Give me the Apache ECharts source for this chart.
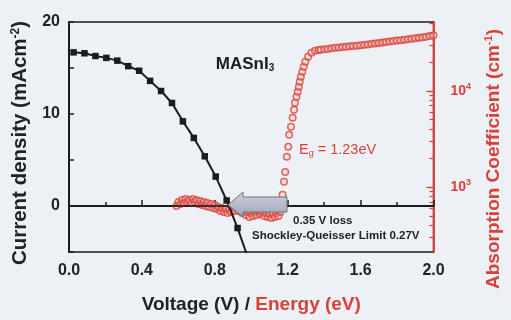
<!DOCTYPE html>
<html><head><meta charset="utf-8">
<script src="https://cdn.jsdelivr.net/npm/echarts@6/dist/echarts.min.js"></script>
<style>html,body{margin:0;padding:0;background:#edf0f4}#c{width:511px;height:320px}</style>
</head><body><div id="c"></div>
<script>
// J-V curve (black squares)
const jvVoltage = [0.025,0.085,0.145,0.205,0.265,0.325,0.385,0.445,0.505,0.565,0.625,0.685,0.745,0.805,0.865,0.925,0.985];
const jvCurrent = [16.7,16.6,16.3,16.1,15.8,15.2,14.7,13.6,12.5,11.2,9.2,7.4,5.4,3.2,0.6,-2.4,-5.8];

// Absorption spectrum (red open circles), energy in eV, coefficient in cm^-1
const absEnergy = [
 0.59,0.60,0.61,0.62,0.63,0.64,0.65,0.66,0.67,0.68,
 0.69,0.70,0.71,0.72,0.73,0.74,0.75,0.76,0.77,0.78,
 0.79,0.80,0.81,0.82,0.83,0.84,0.85,0.86,0.87,0.88,
 0.89,0.90,0.91,0.92,0.93,0.94,0.95,0.96,0.97,0.98,
 0.99,1.00,1.01,1.02,1.03,1.04,1.05,1.06,1.07,1.08,
 1.09,1.10,1.11,1.12,1.13,1.14,1.15,1.16,
 1.172,1.180,1.186,1.195,1.203,1.208,1.218,1.227,1.235,1.240,
 1.248,1.255,1.261,1.266,1.272,1.280,1.288,1.297,1.312,1.330,1.350,1.370,
 1.38,1.40,1.42,1.44,1.46,1.48,1.50,1.52,1.54,1.56,1.58,1.60,1.62,1.64,1.66,1.68,
 1.70,1.72,1.74,1.76,1.78,1.80,1.82,1.84,1.86,1.88,1.90,1.92,1.94,1.96,1.98,2.00
];
const absCoeff = [
 634,698,665,732,681,750,698,732,681,750,
 698,732,665,715,649,698,634,681,619,665,
 604,649,590,619,562,604,549,590,536,576,
 549,604,562,619,562,590,536,562,511,549,
 487,536,499,549,511,562,523,549,499,536,
 487,523,475,523,487,536,499,549,
 826,1128,1432,2054,2610,3480,4220,5230,6340,7500,
 8660,9760,11000,12400,14000,15800,17800,20000,22600,24900,26100,26600,
 26700,27000,27300,27700,28000,28300,28500,28700,29000,29300,29500,29800,30100,30400,30800,31100,
 31500,31800,32200,32500,32900,33300,33600,34000,34400,34800,35200,35600,36000,36500,37100,37800
];

const absMajorTicks = [1000, 10000];
const absMinorTicks = [300,400,500,600,700,800,900,2000,3000,4000,5000,6000,7000,8000,9000,20000,30000,40000,50000];

const FONT = "'Liberation Sans', Arial, sans-serif";
const RED = '#d8413a';
const INK = '#1c1c1c';

const chart = echarts.init(document.getElementById('c'));
chart.setOption({
  backgroundColor: '#edf0f4',
  animation: false,
  grid: {left: 69, right: 71, top: 22, bottom: 68, show: true, borderColor: INK, borderWidth: 1.5, backgroundColor: 'transparent'},
  xAxis: {
    type: 'value', min: 0, max: 2, interval: 0.4,
    axisLine: {lineStyle: {color: INK, width: 2}},
    axisTick: {inside: true, length: 6, lineStyle: {color: INK, width: 1.5}},
    minorTick: {show: true, splitNumber: 2, length: 4, lineStyle: {color: INK, width: 1.5}},
    splitLine: {show: false},
    axisLabel: {formatter: v => v.toFixed(1), color: '#222', fontWeight: 'bold', fontSize: 16, fontFamily: FONT, margin: 11},
    name: '{b|Voltage (V) / }{r|Energy (eV)}',
    nameLocation: 'middle', nameGap: 43,
    nameTextStyle: {rich: {
      b: {color: '#222', fontWeight: 'bold', fontSize: 19, fontFamily: FONT},
      r: {color: RED, fontWeight: 'bold', fontSize: 19, fontFamily: FONT}
    }}
  },
  yAxis: [
    {
      type: 'value', min: -5, max: 20, interval: 5, position: 'left',
      axisLine: {show: true, lineStyle: {color: INK, width: 2}},
      axisTick: {show: true, inside: true, length: 5, lineStyle: {color: INK, width: 1.5}},
      splitLine: {show: false},
      axisLabel: {formatter: v => (v % 10 === 0 ? String(v) : ''), color: '#222', fontWeight: 'bold', fontSize: 16, fontFamily: FONT, margin: 9},
      name: '{n|Current density (mAcm}{s|-2}{n|)}',
      nameLocation: 'middle', nameRotate: 90, nameGap: 36,
      nameTextStyle: {padding: [0, 12, 0, 0], rich: {
        n: {color: '#222', fontWeight: 'bold', fontSize: 20.5, fontFamily: FONT},
        s: {color: '#222', fontWeight: 'bold', fontSize: 12, fontFamily: FONT, padding: [0,0,10,0]}
      }}
    },
    {
      type: 'log', logBase: 10, min: 210, max: 52000, position: 'right',
      axisLine: {show: true, lineStyle: {color: RED, width: 2}},
      axisTick: {show: true, inside: true, length: 7, customValues: absMajorTicks, lineStyle: {color: RED, width: 1.3}},
      splitLine: {show: false},
      axisLabel: {customValues: absMajorTicks, margin: 17,
        formatter: v => '{b|10}{s|' + Math.round(Math.log10(v)) + '}',
        rich: {
          b: {color: RED, fontWeight: 'bold', fontSize: 14, fontFamily: FONT},
          s: {color: RED, fontWeight: 'bold', fontSize: 9, fontFamily: FONT, padding: [0,0,8,0]}
        }},
      name: '{n|Absorption Coefficient (cm}{s|-1}{n|)}',
      nameLocation: 'middle', nameRotate: 90, nameGap: 50,
      nameTextStyle: {padding: [0, 44, 0, 0], rich: {
        n: {color: RED, fontWeight: 'bold', fontSize: 19, fontFamily: FONT},
        s: {color: RED, fontWeight: 'bold', fontSize: 11, fontFamily: FONT, padding: [0,0,9,0]}
      }}
    },
    {
      type: 'log', logBase: 10, min: 210, max: 52000, position: 'right',
      axisLine: {show: false},
      axisTick: {show: true, inside: true, length: 4, customValues: absMinorTicks, lineStyle: {color: RED, width: 1.2}},
      axisLabel: {show: false},
      splitLine: {show: false}
    }
  ],
  series: [
    {
      type: 'scatter', xAxisIndex: 0, yAxisIndex: 1,
      data: absEnergy.map((e, i) => [e, absCoeff[i]]),
      symbol: 'circle', symbolSize: 6.5,
      itemStyle: {color: 'rgba(244,200,190,0.45)', borderColor: RED, borderWidth: 1.5},
      z: 3
    },
    {
      type: 'line', xAxisIndex: 0, yAxisIndex: 0,
      data: jvVoltage.map((v, i) => [v, jvCurrent[i]]),
      symbol: 'rect', symbolSize: 6.5, showSymbol: true,
      lineStyle: {color: INK, width: 2},
      itemStyle: {color: INK},
      markLine: {silent: true, symbol: 'none', label: {show: false},
        lineStyle: {color: INK, width: 1.5, type: 'solid'},
        data: [{yAxis: 0}]},
      z: 4
    }
  ]
});

chart.setOption({
  graphic: [
    {type: 'polygon', z: 100,
      shape: {points: [[228,205],[243,192],[243,197],[287,197],[287,212],[243,212],[243,217]]},
      style: {fill: new echarts.graphic.LinearGradient(0,0,0,1,[{offset:0,color:'#cfd2dc'},{offset:1,color:'#9ea3b8'}]), stroke: '#6f7482', lineWidth: 1}},
    {type: 'text', x: 245, y: 64, z: 100,
      style: {text: 'MASnI{s|3}', textAlign: 'center', textVerticalAlign: 'middle', fill: '#1c1c1c', font: "bold 17px 'Liberation Sans', Arial, sans-serif",
        rich: {s: {fontSize: 10, fontWeight: 'bold', fontFamily: FONT, fill: '#1c1c1c', padding: [9,0,0,0]}}}},
    {type: 'text', x: 299, y: 150, z: 100,
      style: {text: 'E{s|g} = 1.23eV', textAlign: 'left', textVerticalAlign: 'middle', fill: RED, font: "14.5px 'Liberation Sans', Arial, sans-serif",
        rich: {s: {fontSize: 9, fontFamily: FONT, fill: RED, padding: [8,0,0,0]}}}},
    {type: 'text', x: 293, y: 221, z: 100,
      style: {text: '0.35 V loss', textAlign: 'left', textVerticalAlign: 'middle', fill: '#222', font: "bold 11.5px 'Liberation Sans', Arial, sans-serif"}},
    {type: 'text', x: 252, y: 236, z: 100,
      style: {text: 'Shockley-Queisser Limit 0.27V', textAlign: 'left', textVerticalAlign: 'middle', fill: '#222', font: "bold 11.5px 'Liberation Sans', Arial, sans-serif"}}
  ]
});
</script>
</body></html>
